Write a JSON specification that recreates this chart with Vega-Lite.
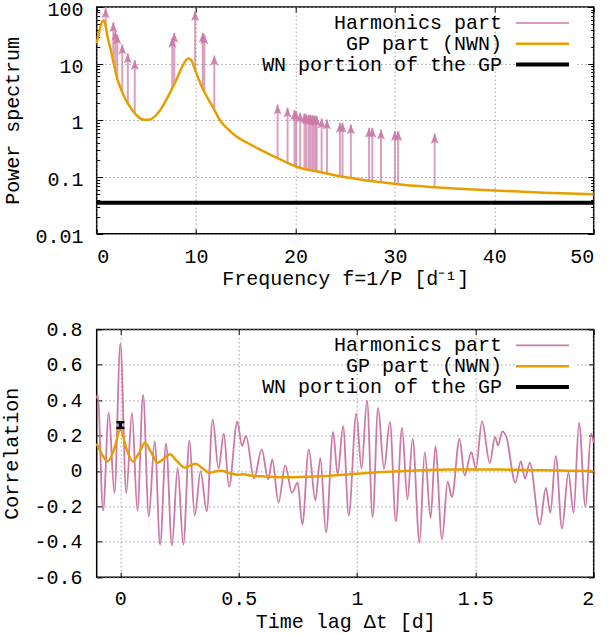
{
  "$schema": "https://vega.github.io/schema/vega-lite/v6.json",
  "padding": {"left": 0.7, "top": -2, "right": 5, "bottom": 2},
  "config": {
    "font": "Liberation Mono",
    "view": {"stroke": "#000000", "strokeWidth": 1.5},
    "axis": {
      "labelFont": "Liberation Mono", "labelFontSize": 20, "labelColor": "#000000",
      "titleFont": "Liberation Mono", "titleFontSize": 20, "titleFontWeight": "normal", "titleColor": "#000000",
      "domain": false, "tickColor": "#000000", "tickSize": -5, "tickWidth": 1,
      "gridColor": "#a0a0a0", "gridDash": [1.5, 2.5], "gridWidth": 1
    },
    "legend": {
      "orient": "none", "legendX": 419.3, "legendY": 6, "title": null,
      "symbolType": "M-5.3,0H5.3", "symbolSize": 100, "symbolOffset": 16.5, "symbolOpacity": 1, "rowPadding": 0.8,
      "labelAlign": "right", "labelOffset": -50.5, "labelFont": "Liberation Mono", "labelFontSize": 20,
      "labelColor": "#000000", "labelLimit": 400, "padding": 0, "fillColor": "#ffffff"
    }
  },
  "datasets": {
    "gp_psd": [
      {"f": 0, "psd": 23}, {"f": 0.2, "psd": 33}, {"f": 0.4, "psd": 47}, {"f": 0.55, "psd": 55},
      {"f": 0.7, "psd": 58}, {"f": 0.85, "psd": 51}, {"f": 1.07, "psd": 31}, {"f": 1.4, "psd": 18},
      {"f": 1.73, "psd": 9.7}, {"f": 2.07, "psd": 5.4}, {"f": 2.4, "psd": 3.7}, {"f": 2.73, "psd": 2.7},
      {"f": 3.2, "psd": 1.9}, {"f": 3.73, "psd": 1.4}, {"f": 4.2, "psd": 1.15}, {"f": 4.8, "psd": 1.02},
      {"f": 5.3, "psd": 1.03}, {"f": 5.8, "psd": 1.15}, {"f": 6.3, "psd": 1.45}, {"f": 6.8, "psd": 2.0},
      {"f": 7.3, "psd": 2.9}, {"f": 7.8, "psd": 4.3}, {"f": 8.4, "psd": 7.4}, {"f": 8.8, "psd": 10.3},
      {"f": 9.2, "psd": 12.4}, {"f": 9.5, "psd": 11.6}, {"f": 9.9, "psd": 7.8}, {"f": 10.3, "psd": 5.1},
      {"f": 10.7, "psd": 3.5}, {"f": 11.2, "psd": 2.4}, {"f": 11.7, "psd": 1.7}, {"f": 12.4, "psd": 1.0},
      {"f": 13, "psd": 0.76}, {"f": 14, "psd": 0.53}, {"f": 15.4, "psd": 0.38}, {"f": 16.5, "psd": 0.3},
      {"f": 18.1, "psd": 0.22}, {"f": 20.1, "psd": 0.152}, {"f": 22.7, "psd": 0.12}, {"f": 25.2, "psd": 0.098},
      {"f": 28, "psd": 0.083}, {"f": 31, "psd": 0.072}, {"f": 34, "psd": 0.066}, {"f": 36.4, "psd": 0.0624},
      {"f": 40, "psd": 0.058}, {"f": 45, "psd": 0.053}, {"f": 50, "psd": 0.0495}
    ],
    "harm": [
      {"f": 0.9, "base": 47, "tip": 95}, {"f": 1.67, "base": 10.5, "tip": 54}, {"f": 1.87, "base": 7.6, "tip": 37.6},
      {"f": 2.07, "base": 5.4, "tip": 32.9}, {"f": 2.57, "base": 3.1, "tip": 21.9}, {"f": 3.13, "base": 2.0, "tip": 15.2},
      {"f": 3.83, "base": 1.35, "tip": 11.6}, {"f": 7.6, "base": 3.7, "tip": 28.8}, {"f": 7.8, "base": 4.3, "tip": 35},
      {"f": 9.9, "base": 7.8, "tip": 84.7}, {"f": 10.67, "base": 3.6, "tip": 35}, {"f": 10.83, "base": 3.2, "tip": 32.9},
      {"f": 11.83, "base": 1.6, "tip": 14}, {"f": 18.2, "base": 0.216, "tip": 1.91}, {"f": 19.2, "base": 0.18, "tip": 1.68},
      {"f": 19.9, "base": 0.157, "tip": 1.52}, {"f": 20.07, "base": 0.153, "tip": 1.46}, {"f": 20.47, "base": 0.148, "tip": 1.37},
      {"f": 20.9, "base": 0.142, "tip": 1.33}, {"f": 21.07, "base": 0.14, "tip": 1.28}, {"f": 21.3, "base": 0.137, "tip": 1.26},
      {"f": 21.47, "base": 0.135, "tip": 1.25}, {"f": 21.67, "base": 0.132, "tip": 1.24}, {"f": 21.83, "base": 0.13, "tip": 1.22},
      {"f": 22.0, "base": 0.128, "tip": 1.21}, {"f": 22.13, "base": 0.126, "tip": 1.2}, {"f": 22.63, "base": 0.121, "tip": 1.08},
      {"f": 23.17, "base": 0.116, "tip": 1.04}, {"f": 24.47, "base": 0.104, "tip": 0.91}, {"f": 24.73, "base": 0.102, "tip": 0.91},
      {"f": 25.57, "base": 0.096, "tip": 0.85}, {"f": 27.4, "base": 0.087, "tip": 0.74}, {"f": 27.73, "base": 0.085, "tip": 0.74},
      {"f": 28.6, "base": 0.081, "tip": 0.69}, {"f": 30.0, "base": 0.076, "tip": 0.65}, {"f": 30.33, "base": 0.075, "tip": 0.65},
      {"f": 34.0, "base": 0.066, "tip": 0.58}
    ],
    "wn": [{"level": 0.0353}],
    "corr_h": [
      {"t": -0.1, "v": 0.41}, {"t": -0.096, "v": 0.43}, {"t": -0.073, "v": -0.223}, {"t": -0.049, "v": 0.329},
      {"t": -0.025, "v": -0.124}, {"t": 0, "v": 0.719}, {"t": 0.025, "v": -0.124}, {"t": 0.049, "v": 0.329},
      {"t": 0.072, "v": -0.223}, {"t": 0.096, "v": 0.43}, {"t": 0.12, "v": -0.256}, {"t": 0.145, "v": 0.167},
      {"t": 0.168, "v": -0.416}, {"t": 0.193, "v": 0.154}, {"t": 0.218, "v": -0.42}, {"t": 0.242, "v": 0.017},
      {"t": 0.266, "v": -0.416}, {"t": 0.292, "v": 0.173}, {"t": 0.314, "v": -0.251}, {"t": 0.339, "v": -0.002},
      {"t": 0.365, "v": -0.228}, {"t": 0.39, "v": 0.292}, {"t": 0.415, "v": 0.013}, {"t": 0.437, "v": 0.211},
      {"t": 0.459, "v": -0.09}, {"t": 0.494, "v": 0.28}, {"t": 0.514, "v": 0.141}, {"t": 0.531, "v": 0.198},
      {"t": 0.565, "v": -0.043}, {"t": 0.597, "v": 0.122}, {"t": 0.625, "v": -0.047}, {"t": 0.642, "v": 0.066},
      {"t": 0.668, "v": -0.179}, {"t": 0.697, "v": 0.032}, {"t": 0.725, "v": -0.123}, {"t": 0.749, "v": -0.066},
      {"t": 0.769, "v": -0.302}, {"t": 0.796, "v": 0.122}, {"t": 0.824, "v": -0.166}, {"t": 0.845, "v": 0.073},
      {"t": 0.869, "v": -0.349}, {"t": 0.899, "v": 0.22}, {"t": 0.918, "v": -0.021}, {"t": 0.941, "v": 0.254},
      {"t": 0.965, "v": -0.251}, {"t": 0.997, "v": 0.324}, {"t": 1.019, "v": 0.013}, {"t": 1.042, "v": 0.399},
      {"t": 1.066, "v": -0.26}, {"t": 1.089, "v": 0.356}, {"t": 1.114, "v": 0.013}, {"t": 1.139, "v": 0.277},
      {"t": 1.164, "v": -0.285}, {"t": 1.19, "v": 0.243}, {"t": 1.213, "v": -0.16}, {"t": 1.235, "v": 0.182},
      {"t": 1.264, "v": -0.405}, {"t": 1.286, "v": 0.107}, {"t": 1.311, "v": -0.266}, {"t": 1.331, "v": 0.141},
      {"t": 1.359, "v": -0.386}, {"t": 1.383, "v": -0.059}, {"t": 1.401, "v": -0.147}, {"t": 1.433, "v": 0.182},
      {"t": 1.455, "v": -0.025}, {"t": 1.483, "v": 0.107}, {"t": 1.502, "v": 0.013}, {"t": 1.528, "v": 0.28},
      {"t": 1.561, "v": 0.045}, {"t": 1.583, "v": 0.192}, {"t": 1.596, "v": 0.145}, {"t": 1.614, "v": 0.224},
      {"t": 1.631, "v": 0.192}, {"t": 1.669, "v": -0.066}, {"t": 1.692, "v": 0.054}, {"t": 1.71, "v": -0.043},
      {"t": 1.73, "v": 0.047}, {"t": 1.772, "v": -0.303}, {"t": 1.798, "v": -0.096}, {"t": 1.817, "v": -0.236},
      {"t": 1.84, "v": 0.085}, {"t": 1.866, "v": -0.326}, {"t": 1.893, "v": -0.01}, {"t": 1.915, "v": -0.236},
      {"t": 1.938, "v": 0.273}, {"t": 1.965, "v": -0.203}, {"t": 1.989, "v": 0.211}, {"t": 2.0, "v": 0.16}
    ],
    "corr_gp": [
      {"t": -0.1, "v": 0.155}, {"t": -0.08, "v": 0.1}, {"t": -0.053, "v": 0.055}, {"t": -0.027, "v": 0.12},
      {"t": 0, "v": 0.233}, {"t": 0.027, "v": 0.12}, {"t": 0.053, "v": 0.054}, {"t": 0.078, "v": 0.1},
      {"t": 0.104, "v": 0.16}, {"t": 0.13, "v": 0.105}, {"t": 0.157, "v": 0.047}, {"t": 0.183, "v": 0.068},
      {"t": 0.209, "v": 0.094}, {"t": 0.24, "v": 0.055}, {"t": 0.272, "v": 0.019}, {"t": 0.295, "v": 0.03},
      {"t": 0.318, "v": 0.041}, {"t": 0.347, "v": 0.015}, {"t": 0.377, "v": -0.01}, {"t": 0.4, "v": -0.003},
      {"t": 0.426, "v": 0.002}, {"t": 0.46, "v": -0.012}, {"t": 0.494, "v": -0.021}, {"t": 0.52, "v": -0.019},
      {"t": 0.55, "v": -0.026}, {"t": 0.6, "v": -0.03}, {"t": 0.7, "v": -0.036}, {"t": 0.8, "v": -0.032},
      {"t": 0.9, "v": -0.025}, {"t": 1.0, "v": -0.016}, {"t": 1.1, "v": -0.006}, {"t": 1.2, "v": 0.0},
      {"t": 1.3, "v": 0.005}, {"t": 1.4, "v": 0.008}, {"t": 1.5, "v": 0.009}, {"t": 1.6, "v": 0.008},
      {"t": 1.7, "v": 0.006}, {"t": 1.8, "v": 0.004}, {"t": 1.9, "v": 0.002}, {"t": 2.0, "v": 0.0}
    ],
    "wn_corr": [{"t": 0, "v": 0.259, "lo": 0.243, "hi": 0.276}]
  },
  "spacing": 95.4,
  "bounds": "flush",
  "resolve": {"scale": {"color": "independent"}, "legend": {"color": "independent"}},
  "vconcat": [
    {
      "width": 497,
      "height": 226.7,
      "resolve": {"axis": {"x": "independent", "y": "independent"}},
      "layer": [
        {
          "data": {"name": "harm"},
          "mark": {"type": "rule", "strokeWidth": 2, "opacity": 0.7},
          "encoding": {
            "x": {"field": "f", "type": "quantitative", "scale": {"domain": [0, 50], "nice": false, "zero": false},
              "axis": {"values": [0, 10, 20, 30, 40, 50], "title": "Frequency f=1/P [d⁻¹]", "grid": true, "labelPadding": 17.5, "titlePadding": 2}},
            "y": {"field": "base", "type": "quantitative", "scale": {"type": "log", "domain": [0.01, 100], "nice": false},
              "axis": {
                "title": "Power spectrum", "grid": true, "labelPadding": 19.7, "titlePadding": 12, "labelOffset": 2.4,
                "values": [0.01, 0.02, 0.03, 0.04, 0.05, 0.06, 0.07, 0.08, 0.09, 0.1, 0.2, 0.3, 0.4, 0.5, 0.6, 0.7, 0.8, 0.9, 1, 2, 3, 4, 5, 6, 7, 8, 9, 10, 20, 30, 40, 50, 60, 70, 80, 90, 100],
                "labelExpr": "abs(log(datum.value)/LN10 - round(log(datum.value)/LN10)) < 0.001 ? format(datum.value, '~g') : ''",
                "gridOpacity": {"condition": {"test": "abs(log(datum.value)/LN10 - round(log(datum.value)/LN10)) < 0.001", "value": 1}, "value": 0},
                "tickSize": {"condition": {"test": "abs(log(datum.value)/LN10 - round(log(datum.value)/LN10)) < 0.001", "value": -6}, "value": -3}
              }},
            "y2": {"field": "tip"},
            "color": {"datum": "Harmonics part", "type": "nominal",
              "scale": {"domain": ["Harmonics part", "GP part (NWN)", "WN portion of the GP"], "range": ["#cc79a7", "#e69f00", "#000000"]},
              "legend": {"encode": {"symbols": {"update": {"strokeWidth": {"signal": "datum.value === 'WN portion of the GP' ? 4 : datum.value === 'GP part (NWN)' ? 2.5 : 1.6"}}}}}}
          }
        },
        {
          "data": {"name": "harm"},
          "mark": {"type": "point", "shape": "M0,0L-0.8,2L0,1.6L0.8,2Z", "filled": true, "size": 100, "opacity": 0.9, "color": "#cc79a7", "strokeWidth": 0},
          "encoding": {
            "x": {"field": "f", "type": "quantitative", "axis": null},
            "y": {"field": "tip", "type": "quantitative", "axis": null}
          }
        },
        {
          "data": {"name": "gp_psd"},
          "mark": {"type": "line", "strokeWidth": 2.5, "interpolate": "monotone"},
          "encoding": {
            "x": {"field": "f", "type": "quantitative", "axis": null},
            "y": {"field": "psd", "type": "quantitative", "axis": null},
            "color": {"datum": "GP part (NWN)", "type": "nominal"}
          }
        },
        {
          "data": {"name": "wn"},
          "mark": {"type": "rule", "strokeWidth": 4},
          "encoding": {
            "y": {"field": "level", "type": "quantitative", "axis": null},
            "color": {"datum": "WN portion of the GP", "type": "nominal"}
          }
        },
        {
          "data": {"name": "gp_psd"},
          "mark": {"type": "line", "opacity": 0},
          "encoding": {
            "x": {"field": "f", "type": "quantitative", "axis": {"orient": "top", "values": [0, 10, 20, 30, 40, 50], "labels": false, "grid": false, "title": null}},
            "y": {"field": "psd", "type": "quantitative", "axis": {
              "orient": "right", "labels": false, "grid": false, "title": null,
              "values": [0.01, 0.02, 0.03, 0.04, 0.05, 0.06, 0.07, 0.08, 0.09, 0.1, 0.2, 0.3, 0.4, 0.5, 0.6, 0.7, 0.8, 0.9, 1, 2, 3, 4, 5, 6, 7, 8, 9, 10, 20, 30, 40, 50, 60, 70, 80, 90, 100],
              "tickSize": {"condition": {"test": "abs(log(datum.value)/LN10 - round(log(datum.value)/LN10)) < 0.001", "value": -6}, "value": -3}
            }}
          }
        }
      ]
    },
    {
      "width": 497,
      "height": 247.8,
      "resolve": {"axis": {"x": "independent", "y": "independent"}},
      "layer": [
        {
          "data": {"name": "corr_h"},
          "mark": {"type": "line", "strokeWidth": 1.8, "interpolate": "monotone"},
          "encoding": {
            "x": {"field": "t", "type": "quantitative", "scale": {"domain": [-0.1, 2], "nice": false, "zero": false},
              "axis": {"values": [0, 0.5, 1, 1.5, 2], "labelExpr": "'' + datum.value", "title": "Time lag Δt [d]", "grid": true, "labelPadding": 16.5, "titlePadding": 3}},
            "y": {"field": "v", "type": "quantitative", "scale": {"domain": [-0.6, 0.8], "nice": false, "zero": false},
              "axis": {"values": [-0.6, -0.4, -0.2, 0, 0.2, 0.4, 0.6, 0.8], "labelExpr": "'' + datum.value", "title": "Correlation", "grid": true, "labelPadding": 19.7, "titlePadding": 12}},
            "color": {"datum": "Harmonics part", "type": "nominal",
              "scale": {"domain": ["Harmonics part", "GP part (NWN)", "WN portion of the GP"], "range": ["#cc79a7", "#e69f00", "#000000"]},
              "legend": {"encode": {"symbols": {"update": {"strokeWidth": {"signal": "datum.value === 'WN portion of the GP' ? 4 : datum.value === 'GP part (NWN)' ? 2.5 : 1.6"}}}}}}
          }
        },
        {
          "data": {"name": "corr_gp"},
          "mark": {"type": "line", "strokeWidth": 2.5, "interpolate": "monotone"},
          "encoding": {
            "x": {"field": "t", "type": "quantitative", "axis": null},
            "y": {"field": "v", "type": "quantitative", "axis": null},
            "color": {"datum": "GP part (NWN)", "type": "nominal"}
          }
        },
        {
          "data": {"name": "wn_corr"},
          "mark": {"type": "rule", "strokeWidth": 3.5, "color": "#000000"},
          "encoding": {
            "x": {"field": "t", "type": "quantitative", "axis": null},
            "y": {"field": "lo", "type": "quantitative", "axis": null},
            "y2": {"field": "hi"}
          }
        },
        {
          "data": {"name": "wn_corr"},
          "mark": {"type": "tick", "orient": "horizontal", "size": 8, "thickness": 2.5, "color": "#000000", "opacity": 1},
          "encoding": {
            "x": {"field": "t", "type": "quantitative", "axis": null},
            "y": {"field": "lo", "type": "quantitative", "axis": null}
          }
        },
        {
          "data": {"name": "wn_corr"},
          "mark": {"type": "tick", "orient": "horizontal", "size": 8, "thickness": 2.5, "color": "#000000", "opacity": 1},
          "encoding": {
            "x": {"field": "t", "type": "quantitative", "axis": null},
            "y": {"field": "hi", "type": "quantitative", "axis": null}
          }
        },
        {
          "data": {"name": "corr_gp"},
          "mark": {"type": "line", "opacity": 0},
          "encoding": {
            "x": {"field": "t", "type": "quantitative", "axis": {"orient": "top", "values": [0, 0.5, 1, 1.5, 2], "labels": false, "grid": false, "title": null}},
            "y": {"field": "v", "type": "quantitative", "axis": {"orient": "right", "values": [-0.6, -0.4, -0.2, 0, 0.2, 0.4, 0.6, 0.8], "labels": false, "grid": false, "title": null}}
          }
        }
      ]
    }
  ]
}
